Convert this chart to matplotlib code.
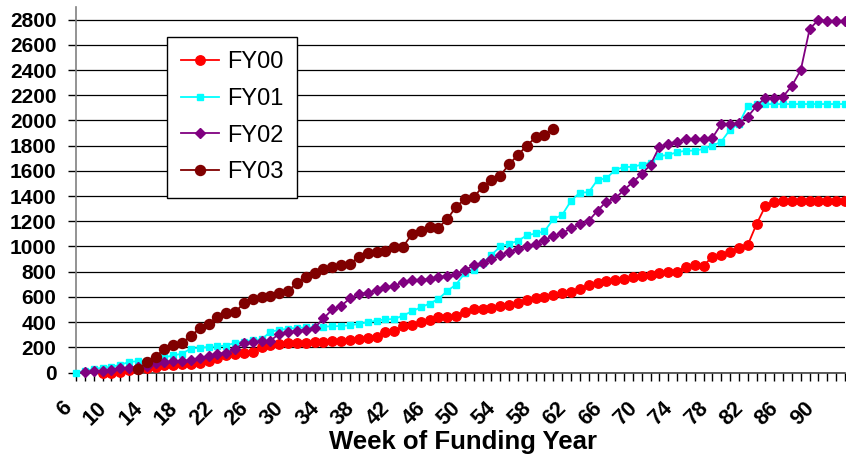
import matplotlib
matplotlib.use("Agg")
import matplotlib.pyplot as plt

plt.rcParams['font.family'] = ['Liberation Sans', 'DejaVu Sans']

# Category axis: week of funding year
weeks = list(range(6, 94))
tick_labels = [str(w) if (w - 6) % 4 == 0 else "" for w in weeks]

fy00_start = 9
fy00 = [0, 0, 6, 20, 25, 33, 46, 60, 60, 65, 65, 78, 94, 112, 135, 147, 152, 165,
        205, 218, 226, 232, 232, 237, 240, 245, 248, 252, 258, 266, 274, 284, 320,
        326, 369, 377, 403, 417, 438, 443, 448, 483, 501, 504, 509, 528, 536, 554,
        575, 589, 602, 615, 633, 637, 660, 694, 708, 726, 734, 740, 755, 768, 771,
        787, 798, 800, 840, 853, 848, 919, 935, 959, 986, 1012, 1179, 1321, 1353,
        1361, 1363, 1363, 1361, 1361, 1361, 1361, 1361]

fy01_start = 6
fy01 = [0, 12, 28, 38, 46, 60, 84, 90, 95, 105, 121, 135, 150, 190, 196, 202, 207,
        214, 235, 245, 258, 263, 324, 337, 348, 353, 358, 358, 364, 367, 369, 375,
        385, 399, 411, 422, 424, 452, 485, 517, 547, 583, 647, 698, 790, 815, 866,
        932, 1000, 1020, 1045, 1088, 1103, 1120, 1217, 1250, 1362, 1427, 1430, 1528,
        1541, 1607, 1631, 1631, 1650, 1665, 1718, 1726, 1748, 1760, 1760, 1774, 1798,
        1832, 1927, 1975, 2115, 2130, 2130, 2130, 2130, 2130, 2130, 2130, 2130, 2130,
        2130, 2130]

fy02_start = 7
fy02 = [5, 8, 15, 20, 33, 35, 45, 55, 75, 85, 88, 90, 100, 112, 130, 150, 155, 188,
        232, 240, 248, 252, 308, 320, 328, 340, 355, 430, 500, 528, 589, 622, 634,
        652, 678, 684, 721, 734, 737, 741, 760, 764, 782, 813, 850, 868, 898, 932,
        959, 979, 1001, 1022, 1052, 1082, 1105, 1144, 1175, 1203, 1284, 1356, 1382,
        1448, 1512, 1575, 1648, 1792, 1816, 1832, 1851, 1851, 1855, 1862, 1971, 1971,
        1978, 2030, 2115, 2181, 2181, 2189, 2276, 2401, 2726, 2798, 2788, 2788, 2785]

fy03_start = 13
fy03 = [25, 81, 125, 186, 218, 237, 290, 350, 385, 443, 475, 480, 549, 586, 602, 610,
        633, 649, 708, 755, 792, 819, 835, 851, 859, 919, 951, 959, 962, 994, 998,
        1097, 1125, 1157, 1149, 1216, 1316, 1375, 1390, 1475, 1525, 1562, 1652, 1726,
        1800, 1866, 1885, 1930]

series = [
    ("FY00", fy00_start, fy00, "#FF0000", "o", 6.8),
    ("FY01", fy01_start, fy01, "#00FFFF", "s", 5.0),
    ("FY02", fy02_start, fy02, "#800080", "D", 5.2),
    ("FY03", fy03_start, fy03, "#800000", "o", 7.2),
]

W, H = 846, 458
fig = plt.figure(figsize=(W / 100, H / 100), dpi=100)
left, right, bottom, top = 76, 845, 372.5, 7
ax = fig.add_axes([left / W, (H - bottom) / H, (right - left) / W, (bottom - top) / H])

for name, start, vals, col, mk, ms in series:
    xs = list(range(start, start + len(vals)))
    ax.plot(xs, vals, color=col, marker=mk, markersize=ms, linewidth=1.3,
            markeredgecolor=col, label=name, clip_on=False, zorder=3)

ax.set_xlim(6, 93)
ax.set_ylim(0, 2900)
ax.set_yticks(range(0, 2801, 200))
ax.yaxis.grid(True, color="#000000", linewidth=0.9)
ax.set_axisbelow(True)
for s in ["top", "right"]:
    ax.spines[s].set_visible(False)
ax.spines["left"].set_color("#808080")
ax.spines["left"].set_linewidth(1.2)
ax.spines["bottom"].set_color("#404040")
ax.spines["bottom"].set_linewidth(1.2)

ax.set_xticks(weeks)
ax.set_xticklabels(tick_labels, rotation=45, ha="right", va="top",
                   fontsize=15.5, fontweight="bold")
ax.tick_params(axis="x", length=6, width=1, direction="out", pad=12, color="#000000")
ax.tick_params(axis="y", length=6, width=1, direction="out", pad=8, labelsize=15,
               color="#000000")
for lab in ax.get_yticklabels():
    lab.set_fontweight("bold")

ax.set_xlabel("Week of Funding Year", fontsize=18.5, fontweight="bold")
ax.xaxis.set_label_coords((463 - left) / (right - left), -(442 - bottom) / (bottom - top))
ax.xaxis.label.set_va("center")

leg = ax.legend(loc="upper left", bbox_to_anchor=((166.7 - left) / (right - left),
                                                   (bottom - 37.3) / (bottom - top)),
                borderaxespad=0, fontsize=17, frameon=True, fancybox=False,
                edgecolor="#000000", framealpha=1, handlelength=1.6,
                handletextpad=0.35, labelspacing=0.62, borderpad=0.6)
leg.get_frame().set_linewidth(1.0)

fig.savefig("out.png", dpi=100)
